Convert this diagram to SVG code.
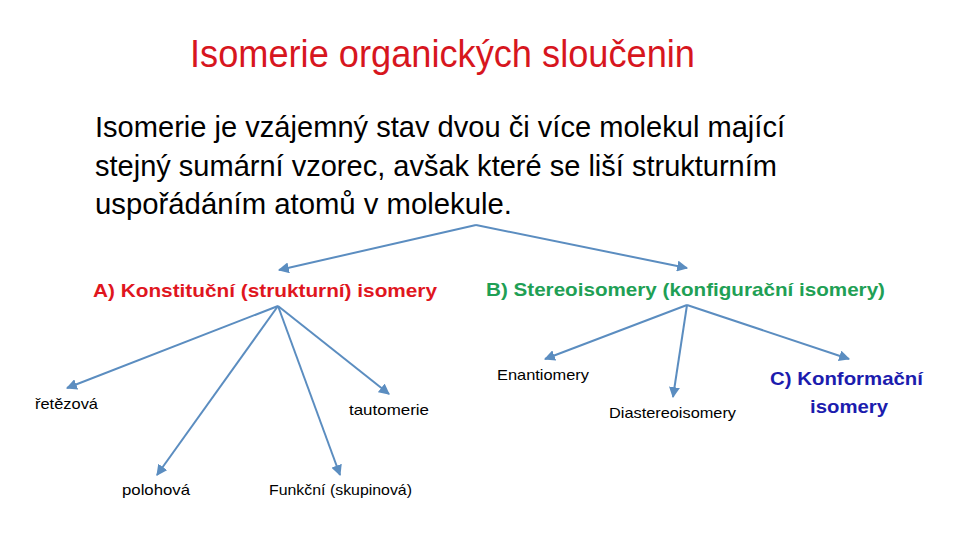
<svg xmlns="http://www.w3.org/2000/svg" width="960" height="540" viewBox="0 0 960 540">
<defs>
<style>
text{font-family:"Liberation Sans",Arial,sans-serif;}
.title{font-size:38px;fill:#d7161e;}
.body{font-size:30px;fill:#000;}
.lab{font-size:19px;font-weight:bold;}
.small{font-size:15px;fill:#000;}
.conn{stroke:#5b8dc0;stroke-width:2;fill:none;marker-end:url(#ah);}
</style>
<marker id="ah" viewBox="0 0 10 10" refX="9" refY="5" markerWidth="5.5" markerHeight="5.5" orient="auto" markerUnits="strokeWidth">
<path d="M0,0 L10,5 L0,10 z" fill="#5b8dc0"/>
</marker>
</defs>
<rect width="960" height="540" fill="#fff"/>
<g id="title"><text class="title" x="190" y="67" textLength="505" lengthAdjust="spacingAndGlyphs">Isomerie organických sloučenin</text></g>
<g id="definition">
<text class="body" x="95" y="137" textLength="690" lengthAdjust="spacingAndGlyphs">Isomerie je vzájemný stav dvou či více molekul mající</text>
<text class="body" x="95" y="176" textLength="682" lengthAdjust="spacingAndGlyphs">stejný sumární vzorec, avšak které se liší strukturním</text>
<text class="body" x="95" y="214" textLength="417" lengthAdjust="spacingAndGlyphs">uspořádáním atomů v molekule.</text>
</g>
<g id="connectors">
<path class="conn" d="M476,225 L279,270"/>
<path class="conn" d="M476,225 L687,268"/>
<path class="conn" d="M278,306 L67,388"/>
<path class="conn" d="M278,306 L157,475"/>
<path class="conn" d="M278,306 L340,475"/>
<path class="conn" d="M278,306 L389,394"/>
<path class="conn" d="M687,305 L545,359"/>
<path class="conn" d="M687,305 L673,397"/>
<path class="conn" d="M687,305 L849,359"/>
</g>
<g id="nodeA"><text class="lab" x="93" y="297" fill="#e0161e" textLength="344" lengthAdjust="spacingAndGlyphs">A) Konstituční (strukturní) isomery</text></g>
<g id="nodeB"><text class="lab" x="486" y="296" fill="#1fa055" textLength="399" lengthAdjust="spacingAndGlyphs">B) Stereoisomery (konfigurační isomery)</text></g>
<g id="nodeRetez"><text class="small" x="35" y="409" textLength="63" lengthAdjust="spacingAndGlyphs">řetězová</text></g>
<g id="nodeTaut"><text class="small" x="349" y="415" textLength="80" lengthAdjust="spacingAndGlyphs">tautomerie</text></g>
<g id="nodePoloh"><text class="small" x="122" y="495" textLength="68" lengthAdjust="spacingAndGlyphs">polohová</text></g>
<g id="nodeFunk"><text class="small" x="269" y="495" textLength="143" lengthAdjust="spacingAndGlyphs">Funkční (skupinová)</text></g>
<g id="nodeEnant"><text class="small" x="497" y="380" textLength="92" lengthAdjust="spacingAndGlyphs">Enantiomery</text></g>
<g id="nodeDiast"><text class="small" x="609" y="418" textLength="127" lengthAdjust="spacingAndGlyphs">Diastereoisomery</text></g>
<g id="nodeC">
<text class="lab" x="770" y="385" fill="#1c1cae" font-size="20" textLength="153" lengthAdjust="spacingAndGlyphs">C) Konformační</text>
<text class="lab" x="810" y="413" fill="#1c1cae" font-size="20" textLength="78" lengthAdjust="spacingAndGlyphs">isomery</text>
</g>
</svg>
